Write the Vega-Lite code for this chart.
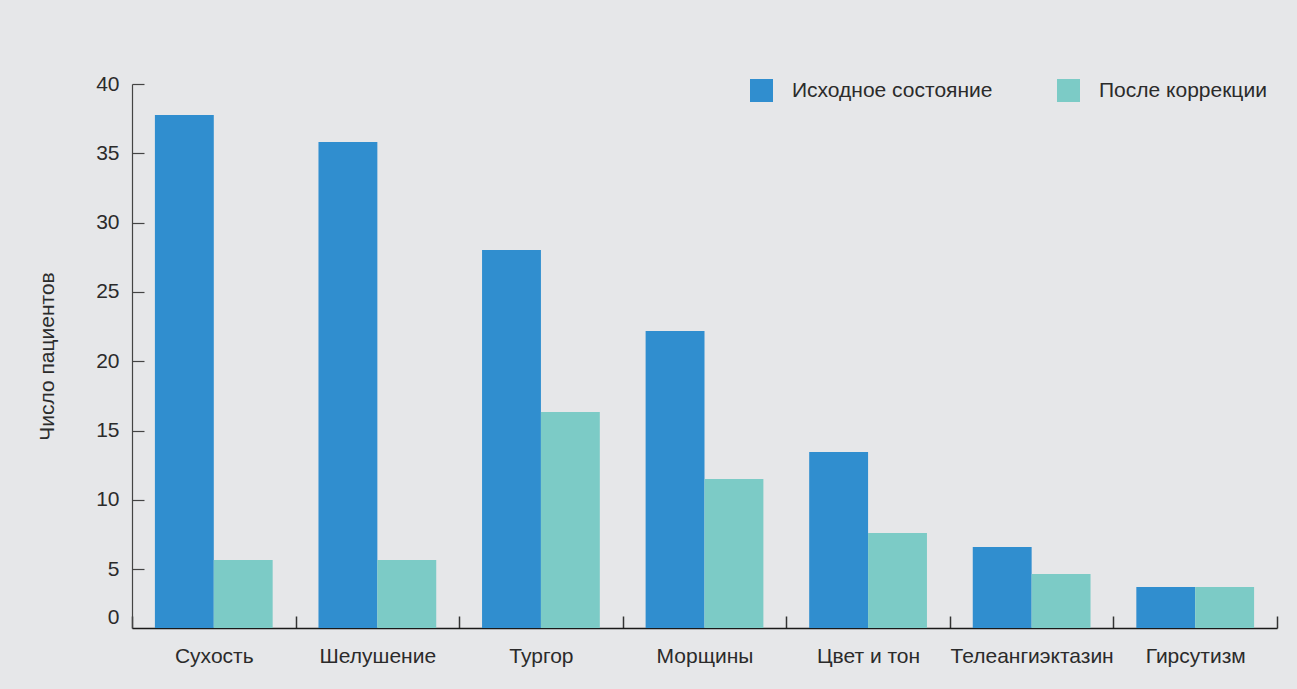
{
  "$schema": "https://vega.github.io/schema/vega-lite/v6.json",
  "autosize": {"type": "none"},
  "padding": {"left": 132, "top": 84, "right": 20, "bottom": 61},
  "width": 1145,
  "height": 544,
  "background": "#e6e7e9",
  "config": {
    "view": {"stroke": null},
    "font": "Liberation Sans",
    "axis": {"labelFont": "Liberation Sans", "titleFont": "Liberation Sans", "labelFontSize": 21, "titleFontSize": 21, "labelColor": "#2b2b2b", "titleColor": "#2b2b2b", "titleFontWeight": "normal", "grid": false}
  },
  "data": {
    "values": [
      {"category": "Сухость", "state": "Исходное состояние", "value": 37.76},
      {"category": "Сухость", "state": "После коррекции", "value": 5.67},
      {"category": "Шелушение", "state": "Исходное состояние", "value": 35.82},
      {"category": "Шелушение", "state": "После коррекции", "value": 5.67},
      {"category": "Тургор", "state": "Исходное состояние", "value": 28.03},
      {"category": "Тургор", "state": "После коррекции", "value": 16.34},
      {"category": "Морщины", "state": "Исходное состояние", "value": 22.18},
      {"category": "Морщины", "state": "После коррекции", "value": 11.51},
      {"category": "Цвет и тон", "state": "Исходное состояние", "value": 13.46},
      {"category": "Цвет и тон", "state": "После коррекции", "value": 7.61},
      {"category": "Телеангиэктазин", "state": "Исходное состояние", "value": 6.61},
      {"category": "Телеангиэктазин", "state": "После коррекции", "value": 4.66},
      {"category": "Гирсутизм", "state": "Исходное состояние", "value": 3.72},
      {"category": "Гирсутизм", "state": "После коррекции", "value": 3.72}
    ]
  },
  "mark": {"type": "bar", "clip": true},
  "encoding": {
    "x": {
      "field": "category",
      "type": "nominal",
      "sort": null,
      "scale": {"paddingInner": 0, "paddingOuter": 0},
      "axis": {
        "title": null,
        "labelAngle": 0,
        "tickBand": "extent",
        "tickSize": -12,
        "tickColor": "#333333",
        "tickWidth": 1.5,
        "domainColor": "#1a1a1a",
        "domainWidth": 1.5,
        "labelPadding": 29
      }
    },
    "xOffset": {
      "field": "state",
      "type": "nominal",
      "sort": ["Исходное состояние", "После коррекции"],
      "scale": {"paddingInner": 0, "paddingOuter": 0.389}
    },
    "y": {
      "field": "value",
      "type": "quantitative",
      "scale": {"domain": [0.76, 40], "nice": false, "zero": false},
      "axis": {
        "title": "Число пациентов",
        "values": [1.52, 5, 10, 15, 20, 25, 30, 35, 40],
        "labelExpr": "datum.value < 2 ? '0' : datum.label",
        "tickOpacity": {"condition": {"test": "datum.value < 2", "value": 0}, "value": 1},
        "tickSize": -12,
        "tickColor": "#444444",
        "tickWidth": 1.2,
        "domainColor": "#444444",
        "domainWidth": 1.2,
        "labelPadding": 25,
        "titlePadding": 38
      }
    },
    "color": {
      "field": "state",
      "type": "nominal",
      "sort": ["Исходное состояние", "После коррекции"],
      "scale": {"domain": ["Исходное состояние", "После коррекции"], "range": ["#308ecf", "#7ccbc6"]},
      "legend": {
        "title": null,
        "orient": "none",
        "direction": "horizontal",
        "legendX": 618,
        "legendY": -5,
        "symbolType": "square",
        "symbolSize": 529,
        "symbolStrokeWidth": 0,
        "symbolOpacity": 1,
        "labelFontSize": 21,
        "labelFont": "Liberation Sans",
        "labelColor": "#2b2b2b",
        "labelOffset": 19,
        "labelLimit": 400,
        "columnPadding": 64
      }
    }
  }
}
